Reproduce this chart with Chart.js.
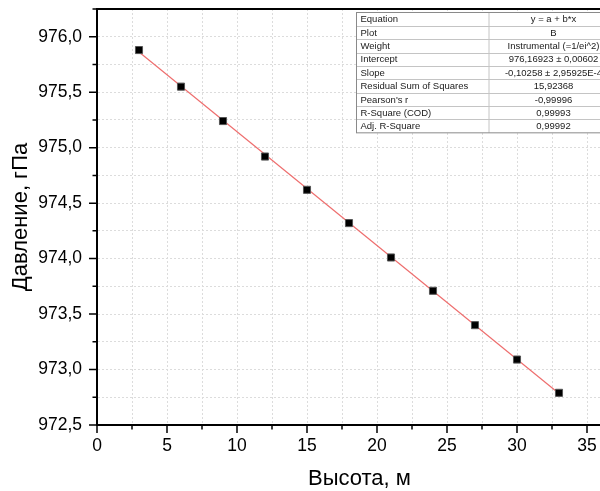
<!DOCTYPE html>
<html>
<head>
<meta charset="utf-8">
<script src="https://cdn.jsdelivr.net/npm/chart.js@4/dist/chart.umd.min.js"></script>
<style>
  html, body { margin: 0; padding: 0; background: #fff; }
  #wrap { width: 600px; height: 491px; overflow: hidden; position: relative; }
  canvas { display: block; }
</style>
</head>
<body>
<div id="wrap"><canvas id="c" width="628" height="491"></canvas></div>
<script>
  // measured points (height, m -> pressure, hPa)
  const heights = [3, 6, 9, 12, 15, 18, 21, 24, 27, 30, 33];
  const pressures = [975.88, 975.55, 975.24, 974.92, 974.62, 974.32, 974.01, 973.71, 973.40, 973.09, 972.79];

  // linear fit ends
  const fitX = [3, 33];
  const fitY = [975.862, 972.784];

  // fit report table
  const tableLabels = ['Equation', 'Plot', 'Weight', 'Intercept', 'Slope',
    'Residual Sum of Squares', "Pearson's r", 'R-Square (COD)', 'Adj. R-Square'];
  const tableValues = ['y = a + b*x', 'B', 'Instrumental (=1/ei^2)', '976,16923 \u00b1 0,00602',
    '-0,10258 \u00b1 2,95925E-4', '15,92368', '-0,99996', '0,99993', '0,99992'];

  const FONT = '"Liberation Sans", Arial, sans-serif';

  const isMajorX = v => Math.abs(v / 5 - Math.round(v / 5)) < 1e-6;
  const isMajorY = v => Math.round(v * 4) % 2 === 0;

  // outward tick marks, long for labelled ticks and short for the rest
  const tickMarks = {
    id: 'tickMarks',
    afterDraw(chart) {
      const ctx = chart.ctx;
      const xs = chart.scales.x, ys = chart.scales.y;
      const area = chart.chartArea;
      ctx.save();
      ctx.strokeStyle = '#000';
      ctx.lineWidth = 1.5;
      ctx.beginPath();
      xs.ticks.forEach((t, i) => {
        const px = xs.getPixelForTick(i);
        const len = isMajorX(t.value) ? 8 : 4.5;
        ctx.moveTo(px, area.bottom);
        ctx.lineTo(px, area.bottom + len);
      });
      ys.ticks.forEach((t, i) => {
        const py = ys.getPixelForTick(i);
        const len = isMajorY(t.value) ? 8 : 4.5;
        ctx.moveTo(area.left, py);
        ctx.lineTo(area.left - len, py);
      });
      ctx.stroke();
      // frame top
      ctx.lineWidth = 2;
      ctx.beginPath();
      ctx.moveTo(area.left - 1, area.top);
      ctx.lineTo(area.right, area.top);
      ctx.stroke();
      ctx.restore();
    }
  };

  const fitTable = {
    id: 'fitTable',
    afterDraw(chart) {
      const ctx = chart.ctx;
      const area = chart.chartArea;
      const x0 = area.left + 259.5, y0 = area.top + 3.5;
      const w1 = 132, w2 = 130, rh = 13.37;
      const h = rh * tableLabels.length;
      ctx.save();
      ctx.fillStyle = '#fff';
      ctx.fillRect(x0, y0, w1 + w2, h);
      ctx.strokeStyle = '#c4c4c4';
      ctx.lineWidth = 1;
      ctx.beginPath();
      for (let i = 1; i < tableLabels.length; i++) {
        const y = Math.round(y0 + i * rh) + 0.5;
        ctx.moveTo(x0, y);
        ctx.lineTo(x0 + w1 + w2, y);
      }
      ctx.moveTo(x0 + w1 + 0.5, y0);
      ctx.lineTo(x0 + w1 + 0.5, y0 + h);
      ctx.stroke();
      ctx.strokeStyle = '#8a8a8a';
      ctx.strokeRect(x0, y0, w1 + w2, h);
      ctx.fillStyle = '#1a1a1a';
      ctx.font = '9.5px ' + FONT;
      ctx.textBaseline = 'middle';
      tableLabels.forEach((lab, i) => {
        const cy = y0 + i * rh + rh / 2 + 0.5;
        ctx.textAlign = 'left';
        ctx.fillText(lab, x0 + 4, cy);
        ctx.textAlign = 'center';
        ctx.fillText(tableValues[i], x0 + w1 + w2 / 2, cy);
      });
      ctx.restore();
    }
  };

  const gridOpts = {
    color: '#dcdcdc',
    lineWidth: 1,
    drawTicks: false
  };
  const borderOpts = { display: true, color: '#000', width: 2, dash: [2, 2] };

  new Chart(document.getElementById('c'), {
    type: 'scatter',
    data: {
      datasets: [
        {
          label: 'B',
          data: heights.map((h, i) => ({ x: h, y: pressures[i] })),
          pointStyle: 'rect',
          pointRadius: 5,
          backgroundColor: '#000',
          borderColor: '#555',
          borderWidth: 1,
          order: 0
        },
        {
          type: 'line',
          label: 'fit',
          data: fitX.map((h, i) => ({ x: h, y: fitY[i] })),
          borderColor: 'rgb(238, 110, 110)',
          borderWidth: 1.2,
          pointRadius: 0,
          fill: false,
          order: 1
        }
      ]
    },
    options: {
      responsive: false,
      animation: false,
      events: [],
      layout: { padding: 0 },
      plugins: {
        legend: { display: false },
        tooltip: { enabled: false }
      },
      scales: {
        x: {
          type: 'linear',
          min: 0,
          max: 37.5,
          afterFit: s => { s.height = 66; s.paddingLeft = 0; s.paddingRight = 0; },
          grid: gridOpts,
          border: borderOpts,
          ticks: {
            stepSize: 2.5,
            autoSkip: false,
            maxRotation: 0,
            padding: 11,
            color: '#000',
            font: { family: FONT, size: 17.5 },
            callback: v => isMajorX(v) ? String(Math.round(v)) : ''
          },
          title: {
            display: true,
            text: 'Высота, м',
            color: '#000',
            padding: { top: 0, bottom: 1 },
            font: { family: FONT, size: 22, lineHeight: 1 }
          }
        },
        y: {
          type: 'linear',
          min: 972.5,
          max: 976.25,
          afterFit: s => { s.width = 97; s.paddingTop = 9; s.paddingBottom = 0; },
          grid: gridOpts,
          border: borderOpts,
          ticks: {
            stepSize: 0.25,
            autoSkip: false,
            padding: 15,
            color: '#000',
            font: { family: FONT, size: 17.5 },
            callback: v => isMajorY(v) ? v.toFixed(1).replace('.', ',') : ''
          },
          title: {
            display: true,
            text: 'Давление, гПа',
            color: '#000',
            padding: { top: 10, bottom: 0 },
            font: { family: FONT, size: 22, lineHeight: 1 }
          }
        }
      }
    },
    plugins: [tickMarks, fitTable]
  });
</script>
</body>
</html>
